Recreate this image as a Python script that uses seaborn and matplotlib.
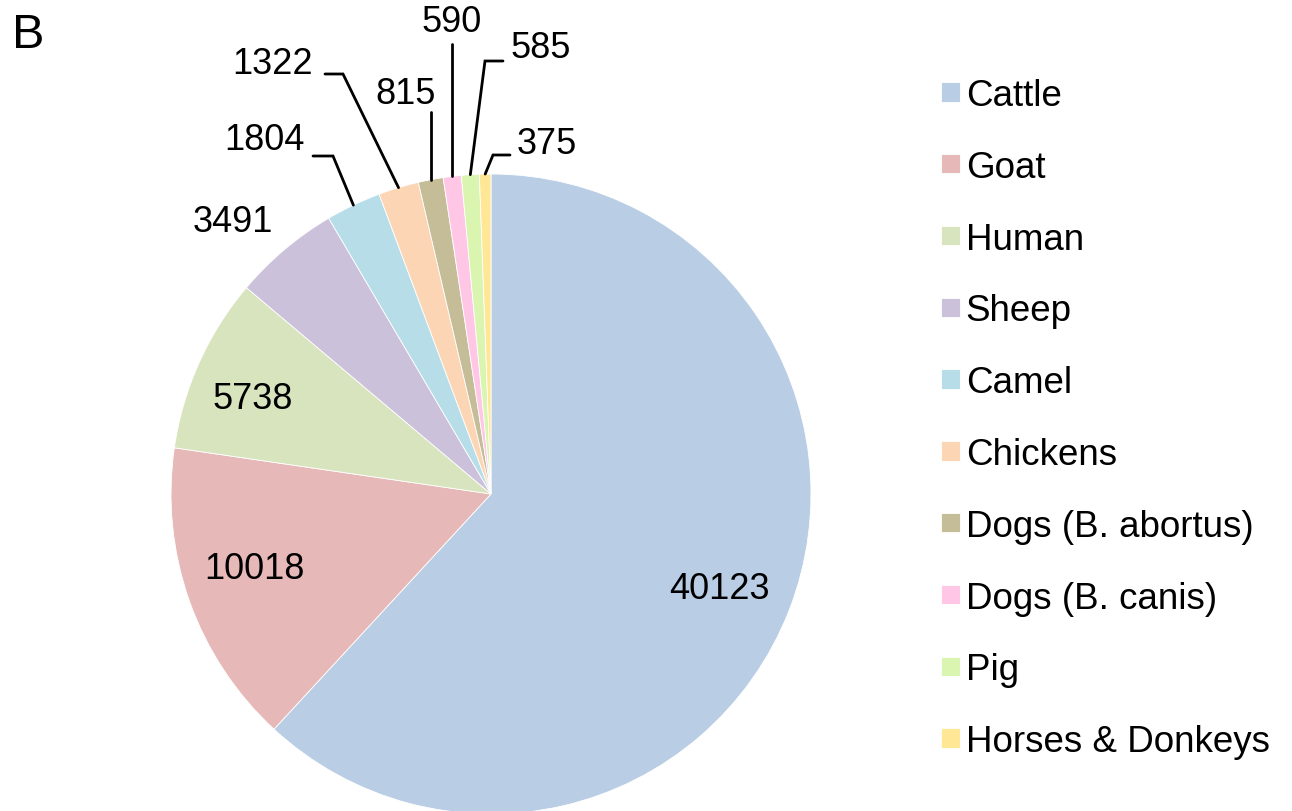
import numpy as np
import matplotlib
matplotlib.use("Agg")
import matplotlib.pyplot as plt
import seaborn as sns

categories = ["Cattle", "Goat", "Human", "Sheep", "Camel", "Chickens",
              "Dogs (B. abortus)", "Dogs (B. canis)", "Pig", "Horses & Donkeys"]
values = [40123, 10018, 5738, 3491, 1804, 1322, 815, 590, 585, 375]
colors = ["#B9CDE5", "#E6B9B8", "#D7E4BD", "#CCC1DA", "#B7DEE8", "#FCD5B5",
          "#C4BD97", "#FFC6E6", "#D9F5B0", "#FFE795"]

sns.set_theme(style="white")
plt.rcParams['font.family'] = ['Liberation Sans', 'DejaVu Sans']

W, H = 1292, 812
fig = plt.figure(figsize=(W / 100, H / 100), dpi=100)
ax = fig.add_axes([0, 0, 1, 1])

def Y(y):  # top-down pixel -> axis coord
    return H - y

cx, cy, R = 491, 495, 320
wedges, _ = ax.pie(values, colors=colors, startangle=90, counterclock=False,
                   center=(cx, Y(cy)), radius=R, frame=True,
                   wedgeprops=dict(edgecolor="white", linewidth=0.6))
ax.set_xlim(0, W)
ax.set_ylim(0, H)
ax.set_aspect("equal")
ax.axis("off")

label_fs = 26
# inner / near labels (layout positions, top-down pixels)
inner_pos = {0: (719, 590), 1: (254, 570), 2: (253, 400), 3: (233, 222)}
for i, (x, y) in inner_pos.items():
    ax.text(x, Y(y), str(values[i]), ha="center", va="center", fontsize=label_fs, color="black")

# leader-line labels: text pos, elbow point, horizontal end
leaders = {
    4: dict(text=(264, 140), elbow=(333, 157), end=(313, 157)),
    5: dict(text=(273, 64), elbow=(343, 75), end=(325, 75)),
    6: dict(text=(406, 95), elbow=None, end=(None, 113)),
    7: dict(text=(452, 22), elbow=None, end=(None, 45)),
    8: dict(text=(541, 49), elbow=(485, 62), end=(503, 62)),
    9: dict(text=(547, 144), elbow=(493, 156), end=(510, 156)),
}
total = sum(values)
cum = np.cumsum([0] + values)
for i, d in leaders.items():
    frac = (cum[i] + values[i] / 2) / total
    ang = np.deg2rad(90 - 360 * frac)
    px, py = cx + R * np.cos(ang), Y(cy) + R * np.sin(ang)
    if d["elbow"] is None:
        xs = [px, px]
        ys = [py, Y(d["end"][1])]
    else:
        ex, ey = d["elbow"]
        xs = [px, ex, d["end"][0]]
        ys = [py, Y(ey), Y(d["end"][1])]
    ax.plot(xs, ys, color="black", lw=2.0, solid_joinstyle="miter")
    tx, ty = d["text"]
    ax.text(tx, Y(ty), str(values[i]), ha="center", va="center", fontsize=label_fs, color="black")

# panel letter
ax.text(12, Y(36), "B", ha="left", va="center", fontsize=35, color="black")

leg = ax.legend(wedges, categories, loc="upper left",
                bbox_to_anchor=(941, Y(79)), bbox_transform=ax.transData,
                frameon=False, fontsize=26.5, handlelength=0.52, handleheight=0.44,
                handletextpad=0.15, labelspacing=1.0, borderaxespad=0, borderpad=0)
for t in leg.get_texts():
    t.set_color("black")

fig.savefig("out.png", dpi=100)
